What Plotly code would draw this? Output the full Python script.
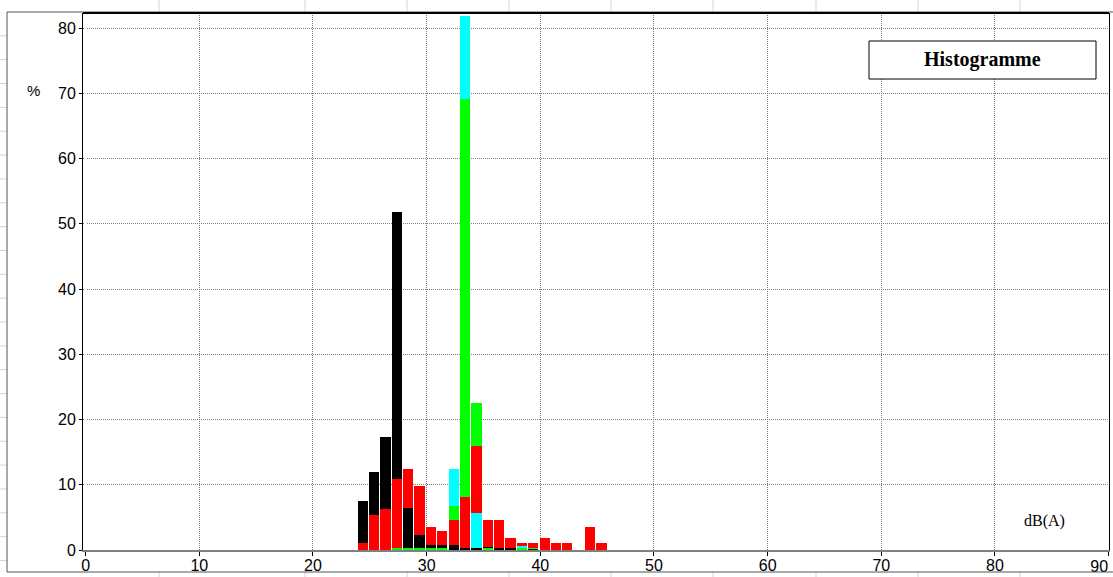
import plotly.graph_objects as go

# Sound-level histogram: share of time (%) per 1 dB(A) class, four series
bins = list(range(24, 46))  # dB(A) classes 24 ... 45

cyan = [0, 0, 0, 0, 0, 0, 0, 0, 12.4, 81.8, 5.7, 0, 0, 0, 0.65, 0, 0, 0, 0, 0, 0, 0]
green = [0, 0, 0, 0.3, 0.3, 0.3, 0.3, 0.3, 6.7, 69.1, 22.5, 0.3, 0.3, 0, 0.35, 0.3, 0, 0, 0, 0, 0, 0]
black = [7.5, 11.9, 17.3, 51.8, 6.5, 2.3, 0.75, 0.75, 0.75, 0.3, 0.25, 0.45, 0.2, 0.2, 0, 0.15, 0, 0, 0, 0, 0, 0]
red = [1.0, 5.4, 6.3, 10.9, 12.4, 9.8, 3.5, 2.9, 4.6, 8.1, 15.9, 4.6, 4.6, 1.8, 1.05, 1.05, 1.8, 1.05, 1.05, 0, 3.5, 1.05]

x_ticks = list(range(0, 91, 10))
y_ticks = list(range(0, 81, 10))
x_range = [-0.23, 90.03]
y_range = [0, 82.3]

series = [(cyan, "#00FFFF"), (green, "#00FF00"), (black, "#000000"), (red, "#FF0000")]

# Overlaid bars: in every class the tallest bar sits behind, the shortest in front
layers_y = [[] for _ in series]
layers_c = [[] for _ in series]
for i in range(len(bins)):
    ranked = sorted(((vals[i], col) for vals, col in series), key=lambda t: -t[0])
    for k, (v, c) in enumerate(ranked):
        layers_y[k].append(v)
        layers_c[k].append(c)

fig = go.Figure()
for ys, cs in zip(layers_y, layers_c):
    fig.add_trace(go.Bar(
        x=bins, y=ys, width=0.9, offset=-0.07,
        marker=dict(color=cs, line=dict(width=0)),
        hoverinfo="skip", showlegend=False,
    ))
# empty trace that brings up the companion axis carrying the last class label
fig.add_trace(go.Scatter(x=[], y=[], xaxis="x2", yaxis="y",
                         hoverinfo="skip", showlegend=False))

W, H = 1113, 577
L, R, T, B = 83, 4, 13, 27
pw, ph = W - L - R, H - T - B


def px(xp):
    return (xp - L) / pw


def py(yp):
    return (H - B - yp) / ph


shapes = []
# worksheet cell lines around the chart object
for k in range(23):
    yy = 35.8 + 23.85 * k
    shapes.append(dict(type="line", xref="paper", yref="paper",
                       x0=px(0), x1=px(7), y0=py(yy), y1=py(yy),
                       line=dict(color="#d4d4d4", width=1)))
for xx in [159, 305, 407, 509, 611, 713, 816, 918, 1020]:
    for y0, y1 in [(0, 12), (572, 577)]:
        shapes.append(dict(type="line", xref="paper", yref="paper",
                           x0=px(xx), x1=px(xx), y0=py(y0), y1=py(y1),
                           line=dict(color="#d4d4d4", width=1)))
# chart object border
for x0, y0, x1, y1 in [(7, 12, 7, 572), (7, 12, 1113, 12), (7, 572, 1113, 572)]:
    shapes.append(dict(type="line", xref="paper", yref="paper",
                       x0=px(x0), x1=px(x1), y0=py(y0), y1=py(y1),
                       line=dict(color="#555555", width=1)))
# top edge of the plot frame
shapes.append(dict(type="line", xref="paper", yref="paper",
                   x0=0, x1=1, y0=1, y1=1, line=dict(color="#000000", width=2)))
# title box
shapes.append(dict(type="rect", xref="paper", yref="paper",
                   x0=px(869), x1=px(1096), y0=py(79), y1=py(41),
                   line=dict(color="#000000", width=1), fillcolor="#ffffff"))

serif = "Liberation Serif, Times New Roman, serif"
sans = "Liberation Sans, Arial, sans-serif"
annotations = [
    dict(text="<b>Histogramme</b>", xref="paper", yref="paper",
         x=px(982.5), y=py(60), xanchor="center", yanchor="middle", showarrow=False,
         font=dict(family=serif, size=20, color="#000")),
    dict(text="dB(A)", xref="paper", yref="paper",
         x=px(1044), y=py(521), xanchor="center", yanchor="middle", showarrow=False,
         font=dict(family=serif, size=16, color="#000")),
    dict(text="%", xref="paper", yref="paper",
         x=px(33), y=py(91), xanchor="center", yanchor="middle", showarrow=False,
         font=dict(family=sans, size=15, color="#000")),
]

tick_font = dict(family=sans, size=16, color="#000")

fig.update_layout(
    width=W, height=H,
    margin=dict(l=L, r=R, t=T, b=B, pad=0, autoexpand=False),
    paper_bgcolor="#ffffff", plot_bgcolor="#ffffff",
    barmode="overlay", bargap=0,
    shapes=shapes, annotations=annotations,
    xaxis=dict(
        range=x_range, tickvals=x_ticks,
        ticktext=[str(v) for v in x_ticks[:-1]] + [""],
        automargin=False, ticklabelstandoff=-4,
        showgrid=True, gridcolor="#808080", griddash="1px,1px", gridwidth=1,
        zeroline=True, zerolinecolor="#ffffff", zerolinewidth=1,
        showline=True, linecolor="#808080", linewidth=2,
        ticks="outside", ticklen=4, tickcolor="#000", tickfont=tick_font,
        fixedrange=True,
    ),
    # the last label sits to the left of its tick so it stays inside the frame
    xaxis2=dict(
        overlaying="x", anchor="y", side="bottom",
        range=x_range, tickvals=x_ticks[-1:], ticktext=[str(x_ticks[-1])],
        ticklabelposition="outside left", automargin=False, ticklabelstandoff=2,
        showgrid=False, zeroline=False, showline=False,
        ticks="outside", ticklen=4, tickcolor="rgba(0,0,0,0)", tickfont=tick_font,
        fixedrange=True,
    ),
    yaxis=dict(
        range=y_range, tickvals=y_ticks, ticktext=[str(v) for v in y_ticks],
        automargin=False,
        showgrid=True, gridcolor="#808080", griddash="1px,1px", gridwidth=1,
        zeroline=False,
        showline=True, mirror=True, linecolor="#000000", linewidth=1,
        ticks="outside", ticklen=3, tickcolor="#000", tickfont=tick_font,
        fixedrange=True,
    ),
)

fig.write_html("out.html", config={"displayModeBar": False})
